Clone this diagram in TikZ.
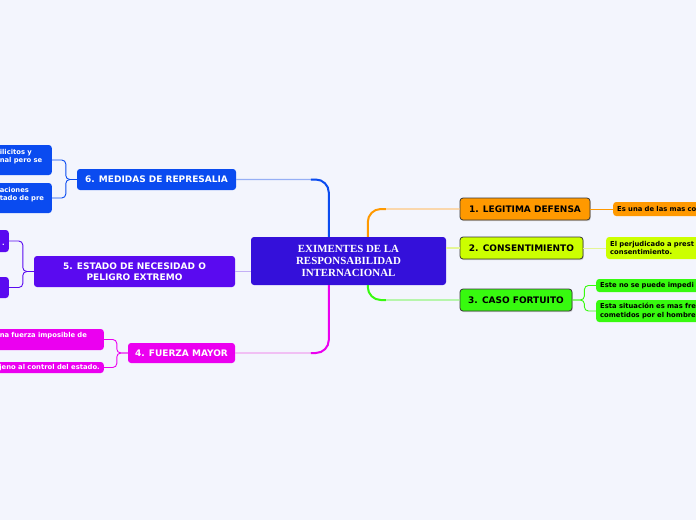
\documentclass[tikz,border=0pt]{standalone}
\usepackage{fontspec}
\setmainfont{Liberation Serif}
\newfontfamily\vfont{DejaVu Sans}
\usetikzlibrary{calc,shadows}
\definecolor{bg}{RGB}{243,245,253}
\definecolor{cctr}{RGB}{52,16,218}
\definecolor{cone}{RGB}{255,153,0}
\definecolor{conel}{RGB}{255,200,130}
\definecolor{ctwo}{RGB}{204,255,0}
\definecolor{ctwol}{RGB}{228,245,150}
\definecolor{cthree}{RGB}{55,250,15}
\definecolor{cthreel}{RGB}{150,245,130}
\definecolor{csix}{RGB}{10,75,240}
\definecolor{csixl}{RGB}{150,175,245}
\definecolor{cfive}{RGB}{90,10,240}
\definecolor{cfivel}{RGB}{195,175,245}
\definecolor{cfour}{RGB}{235,0,240}
\definecolor{cfourl}{RGB}{240,165,240}
\definecolor{edge}{RGB}{55,55,55}
\begin{document}
\begin{tikzpicture}[x=1pt,y=-1pt,
  ctrbox/.style={fill=cctr, rounded corners=3pt, inner sep=0pt, text=white, align=center,
    font=\bfseries\fontsize{10.9}{12}\selectfont},
  mainbox/.style={rounded corners=3pt, inner sep=0pt, align=center,
    font=\vfont\bfseries\fontsize{9}{10.5}\selectfont},
  lightbox/.style={mainbox, draw=edge, line width=0.8pt, text=black,
    drop shadow={shadow xshift=0.8pt, shadow yshift=-1.2pt, opacity=0.3}},
  darkbox/.style={mainbox, text=white},
  kid/.style={rounded corners=3pt, inner xsep=4pt, inner ysep=2.5pt, align=left,
    font=\vfont\bfseries\fontsize{6.8}{8.3}\selectfont},
  rkid/.style={kid, anchor=west, text=black, text width=100pt},
  lkid/.style={kid, anchor=east, text=white},
  light/.style={line width=1.1pt},
  strong/.style={line width=2pt, rounded corners=13pt},
  br/.style={line width=0.9pt, rounded corners=4pt}
]
\useasboundingbox (0,0) rectangle (696,520);
\fill[bg] (0,0) rectangle (696,520);

% central node
\node[ctrbox, minimum width=195pt, minimum height=48pt] (ctr) at (348.5,261)
  {EXIMENTES DE LA\\RESPONSABILIDAD\\ INTERNACIONAL};

% main branches
\node[lightbox, fill=cone, minimum width=130pt, minimum height=22pt] (n1) at (525,209) {1. LEGITIMA DEFENSA};
\node[lightbox, fill=ctwo, minimum width=123pt, minimum height=22pt] (n2) at (521.5,248) {2. CONSENTIMIENTO};
\node[lightbox, fill=cthree, minimum width=112pt, minimum height=22pt] (n3) at (516,300) {3. CASO FORTUITO};
\node[darkbox, fill=csix, minimum width=159pt, minimum height=21pt] (n6) at (156.5,179.5) {6. MEDIDAS DE REPRESALIA};
\node[darkbox, fill=cfive, minimum width=201pt, minimum height=31pt] (n5) at (134.5,271.5) {5. ESTADO DE NECESIDAD O\\PELIGRO EXTREMO};
\node[darkbox, fill=cfour, minimum width=107pt, minimum height=20pt] (n4) at (181.5,353) {4. FUERZA MAYOR};

% children, right side
\node[rkid, fill=cone, minimum height=14pt] (k1) at (613,209) {Es una de las mas co};
\node[rkid, fill=ctwo, minimum height=22pt] (k2) at (606,248) {El perjudicado a prest\\consentimiento.};
\node[rkid, fill=cthree, minimum height=13pt] (k3a) at (596,285.5) {Este no se puede impedi};
\node[rkid, fill=cthree, minimum height=22pt] (k3b) at (596,311) {Esta situación es mas fre\\cometidos por el hombre};

% children, left side
\node[lkid, fill=csix, text width=48pt, minimum height=30pt] (k6a) at (52,160) {ilicitos y\\nal pero se\\\mbox{}};
\node[lkid, fill=csix, text width=48pt, minimum height=30pt] (k6b) at (52,198) {aciones\\tado de pre\\\mbox{}};
\node[lkid, fill=cfive, text width=5pt, align=right, minimum height=22pt] (k5a) at (9,241) {\mbox{}\\.};
\node[lkid, fill=cfive, text width=5pt, minimum height=21pt] (k5b) at (9,287.5) {};
\node[lkid, fill=cfour, text width=100pt, minimum height=21pt] (k4a) at (104,339.5) {na fuerza imposible de\\\mbox{}};
\node[lkid, fill=cfour, minimum height=11pt, inner ysep=1pt] (k4b) at (104,367.5) {jeno al control del estado.};

% connectors from centre
\coordinate (s1) at ([xshift=117pt]ctr.north west);
\coordinate (s3) at ([xshift=117pt]ctr.south west);
\coordinate (s6) at ([xshift=78pt]ctr.north west);
\coordinate (s4) at ([xshift=78pt]ctr.south west);

\draw[conel, light, rounded corners=13pt] (s1) |- (n1.west);
\draw[cone, strong] (s1) |- ($(s1 |- n1.west)+(18,0)$);
\draw[ctwol, light] (ctr.east |- n2.west) -- (n2.west);
\draw[cthreel, light, rounded corners=13pt] (s3) |- (n3.west);
\draw[cthree, strong] (s3) |- ($(s3 |- n3.west)+(18,0)$);

\draw[csixl, light, rounded corners=13pt] (s6) |- (n6.east);
\draw[csix, strong] (s6) |- ($(s6 |- n6.east)+(-18,0)$);
\draw[cfivel, light] (ctr.west |- n5.east) -- (n5.east);
\draw[cfourl, light, rounded corners=13pt] (s4) |- (n4.east);
\draw[cfour, strong] (s4) |- ($(s4 |- n4.east)+(-18,0)$);

% connectors to children
\draw[cone, line width=0.9pt] (n1.east) -- (k1.west);
\draw[ctwol, line width=0.9pt] (n2.east) -- (k2.west);
\draw[cthree, br] (n3.east) -- ++(12,0) |- (k3a.west);
\draw[cthree, br] (n3.east) -- ++(12,0) |- (k3b.west);
\draw[csix, br] (n6.west) -- ++(-11,0) |- (k6a.east);
\draw[csix, br] (n6.west) -- ++(-11,0) |- (k6b.east);
\draw[cfive, br] (n5.west) -- ++(-11,0) |- (k5a.east);
\draw[cfive, br] (n5.west) -- ++(-11,0) |- (k5b.east);
\draw[cfour, br] (n4.west) -- ++(-11,0) |- (k4a.east);
\draw[cfour, br] (n4.west) -- ++(-11,0) |- (k4b.east);
\end{tikzpicture}
\end{document}
